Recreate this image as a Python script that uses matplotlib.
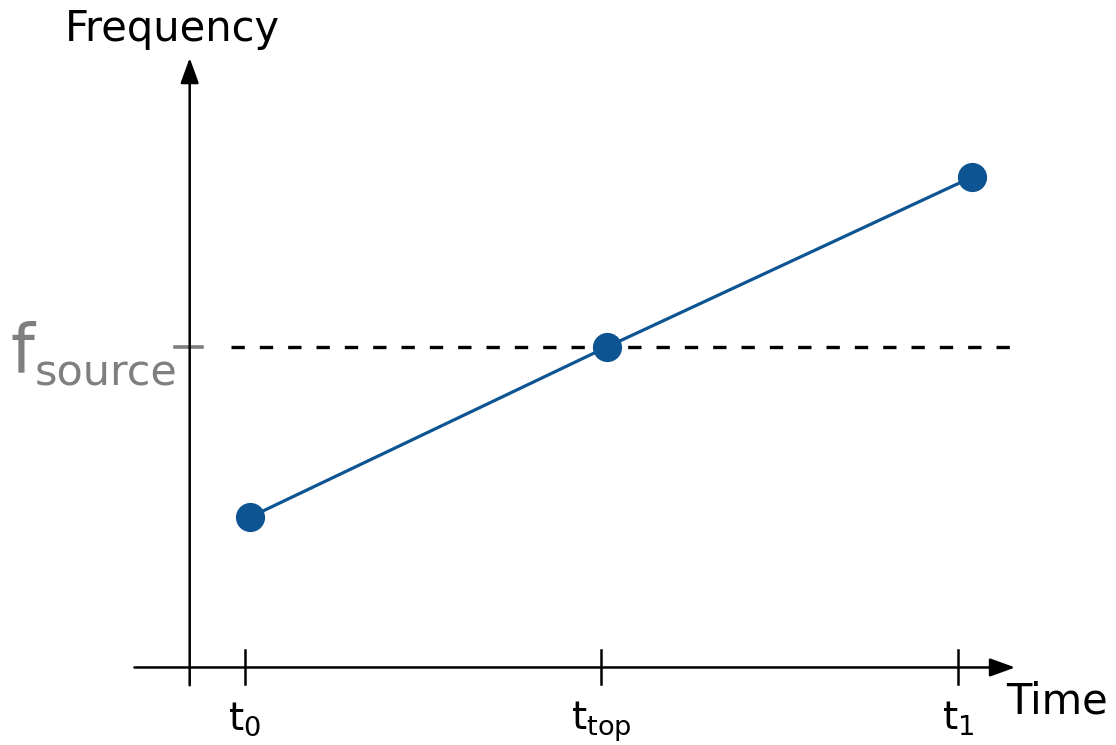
"""Sketch of a linear frequency sweep crossing the source frequency."""

import matplotlib
matplotlib.use("Agg")
import matplotlib.pyplot as plt

# time ticks (in units of the t0 -> t_top spacing) and their labels
tick_times = [0.0, 1.0, 2.0]
tick_labels = [r"$\mathrm{t}_\mathrm{0}$", r"$\mathrm{t}_\mathrm{top}$", r"$\mathrm{t}_\mathrm{1}$"]

# measured points of the sweep (frequency relative to f_source)
point_times = [0.015, 1.015, 2.04]
point_freqs = [-1.0, 0.0, 1.0]

f_source = 0.0

# axis extents in data units
x_axis_start, x_axis_end = -0.31, 2.16
y_axis_start, y_axis_end = -1.99, 1.70
x_axis_level = -1.885
y_axis_pos = -0.155

BLUE = "#0d5492"
GRAY = "#7f7f7f"


def main():
    fig = plt.figure(figsize=(11.16, 7.45), dpi=100)
    ax = fig.add_axes([0, 0, 1, 1])
    ax.set_xlim(-0.687, 2.443)
    ax.set_ylim(-2.341, 2.041)
    ax.axis("off")

    arrow = dict(arrowstyle="-|>,head_length=0.55,head_width=0.2", color="black", lw=1.8,
                 mutation_scale=28, shrinkA=0, shrinkB=0)
    ax.annotate("", xy=(x_axis_end, x_axis_level), xytext=(x_axis_start, x_axis_level), arrowprops=arrow)
    ax.annotate("", xy=(y_axis_pos, y_axis_end), xytext=(y_axis_pos, y_axis_start), arrowprops=arrow)

    # ticks on the time axis
    for t, label in zip(tick_times, tick_labels):
        ax.plot([t, t], [x_axis_level - 0.1, x_axis_level + 0.1], color="black", lw=1.8)
        ax.text(t, x_axis_level - 0.19, label, ha="center", va="top", fontsize=28)

    # source frequency reference
    ax.plot([0.0 - 0.04, 2.18], [f_source, f_source], color="black", lw=2.4, linestyle=(0, (4, 4.5)))
    ax.plot([y_axis_pos - 0.04, y_axis_pos + 0.035], [f_source, f_source], color=GRAY, lw=2.6)
    fig.text(10 / 1116, 1 - 372 / 745, "f", color=GRAY, fontsize=49, va="baseline", ha="left")
    fig.text(35 / 1116, 1 - 384 / 745, "source", color=GRAY, fontsize=31, va="baseline", ha="left")

    # sweep
    ax.plot(point_times, point_freqs, color=BLUE, lw=2.3, marker="o", markersize=20)

    fig.text(172 / 1116, 1 - 29 / 745, "Frequency", fontsize=30, ha="center", va="center")
    fig.text(1057 / 1116, 1 - 701 / 745, "Time", fontsize=30, ha="center", va="center")

    fig.savefig("out.png", dpi=100)
    plt.close(fig)


if __name__ == "__main__":
    main()
